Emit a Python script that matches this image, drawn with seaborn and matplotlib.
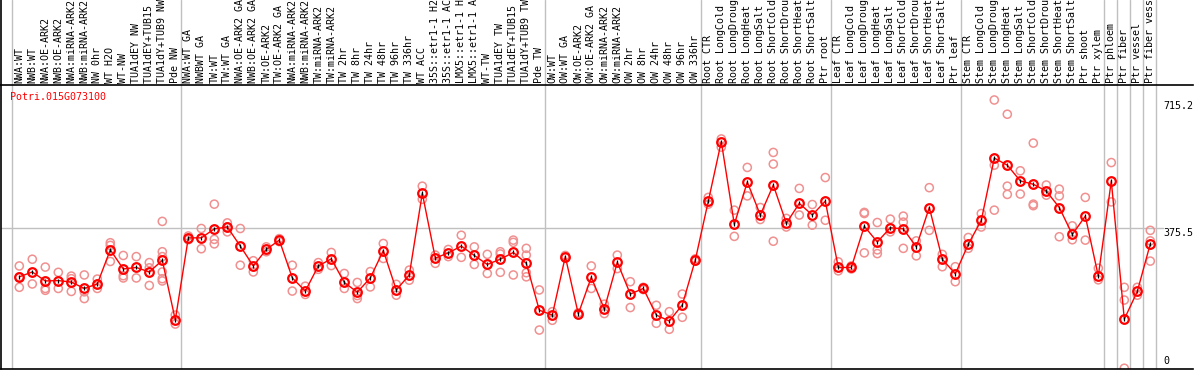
import numpy as np
import pandas as pd
import matplotlib
matplotlib.use("Agg")
import matplotlib.pyplot as plt
import seaborn as sns

# sample names, in plot order
labels = [
    "NWA:WT", "NWB:WT", "NWA:OE-ARK2", "NWB:OE-ARK2", "NWA:miRNA-ARK2", "NWB:miRNA-ARK2",
    "NW 0hr", "WT H2O", "WT-NW", "TUA1dEY NW", "TUA1dEY+TUB15 NW", "TUA1dY+TUB9 NW", "Pde NW",
    "NWA:WT GA", "NWBWT GA", "TW:WT", "TW:WT GA", "NWA:OE-ARK2 GA", "NWB:OE-ARK2 GA",
    "TW:OE-ARK2", "TW:OE-ARK2 GA", "NWA:miRNA-ARK2", "NWB:miRNA-ARK2", "TW:miRNA-ARK2",
    "TW:miRNA-ARK2", "TW 2hr", "TW 8hr", "TW 24hr", "TW 48hr", "TW 96hr", "TW 336hr",
    "WT ACC", "35S::etr1-1 H2O", "35S::etr1-1 ACC", "LMX5::etr1-1 H2O", "LMX5::etr1-1 ACC",
    "WT-TW", "TUA1dEY TW", "TUA1dEY+TUB15 TW", "TUA1dY+TUB9 TW", "Pde TW",
    "OW:WT", "OW:WT GA", "OW:OE-ARK2", "OW:OE-ARK2 GA", "OW:miRNA-ARK2", "OW:miRNA-ARK2",
    "OW 2hr", "OW 8hr", "OW 24hr", "OW 48hr", "OW 96hr", "OW 336hr",
    "Root CTR", "Root LongCold", "Root LongDrought", "Root LongHeat", "Root LongSalt",
    "Root ShortCold", "Root ShortDrought", "Root ShortHeat", "Root ShortSalt", "Ptr root",
    "Leaf CTR", "Leaf LongCold", "Leaf LongDrought", "Leaf LongHeat", "Leaf LongSalt",
    "Leaf ShortCold", "Leaf ShortDrought", "Leaf ShortHeat", "Leaf ShortSalt", "Ptr leaf",
    "Stem CTR", "Stem LongCold", "Stem LongDrought", "Stem LongHeat", "Stem LongSalt",
    "Stem ShortCold", "Stem ShortDrought", "Stem ShortHeat", "Stem ShortSalt",
    "Ptr shoot", "Ptr xylem", "Ptr phloem", "Ptr fiber", "Ptr vessel", "Ptr fiber vessel",
]

# mean expression per sample
means = [
    246, 259, 235, 236, 232, 215, 227, 318, 267, 271, 259, 290, 131,
    350, 350, 374, 379, 328, 275, 319, 344, 243, 208, 275, 294, 231, 205, 243, 316, 211,
    251, 469, 296, 310, 328, 303, 279, 293, 311, 282, 157,
    144, 300, 147, 245, 160, 285, 200, 215, 144, 128, 171, 291,
    448, 607, 386, 499, 411, 491, 389, 442, 411, 448,
    271, 271, 381, 339, 377, 374, 326, 431, 293, 254,
    333, 397, 563, 544, 502, 493, 475, 431, 359, 408,
    248, 502, 133, 207, 334,
]

# individual replicates per sample
replicates = [
    [275, 246, 218], [293, 227], [272, 215, 210], [258, 215], [248, 207, 241], [251, 206, 188],
    [240, 215, 226], [337, 330, 287], [303, 249, 243], [300, 243], [284, 223, 270],
    [394, 313, 300, 259, 241, 235], [144, 120],
    [355, 345], [375, 321], [440, 346, 334], [390, 379, 366], [375, 277], [289, 259],
    [326, 313], [348, 340], [277, 208], [221, 199], [284, 266], [311, 276], [255, 215],
    [231, 188, 196], [260, 219], [335, 295], [226, 197],
    [264, 237], [488, 453], [304, 282], [319, 300], [357, 298], [326, 279], [306, 255],
    [313, 307, 258], [344, 338, 251], [322, 304, 246, 257], [211, 104],
    [153, 130], [303, 297], [150, 145], [275, 215], [173, 148], [304, 268], [233, 164],
    [218, 212], [170, 122], [153, 106], [200, 138], [294, 288],
    [458, 440], [614, 592], [424, 354], [538, 462], [431, 399], [578, 547, 341],
    [402, 379], [482, 411], [439, 384], [511, 397],
    [286, 262], [275, 267], [418, 415, 310], [391, 308, 318], [400, 366], [408, 322, 392],
    [342, 302], [484, 370], [306, 273], [273, 233],
    [351, 322], [415, 379], [718, 544, 424], [680, 488, 466], [529, 467], [603, 436, 440],
    [491, 464], [480, 462, 353], [382, 345], [458, 344],
    [269, 238], [551, 446], [218, 184, 2], [218, 197], [370, 342, 288],
]

separators = [-0.6, 12.4, 40.4, 52.4, 62.4, 72.4, 83.4, 84.4, 85.4, 86.4, 87.4]
y_ticks = [715.2, 375.5, 0]
gene = "Potri.015G073100"

df_mean = pd.DataFrame({"idx": np.arange(len(means)), "value": means})
df_rep = pd.DataFrame(
    [(i, v) for i, reps in enumerate(replicates) for v in reps], columns=["idx", "value"]
)

sns.set_style("white")
mono = "DejaVu Sans Mono"

W, H = 1194, 370
fig = plt.figure(figsize=(W / 100, H / 100), dpi=100)


def rect(x0, y0, x1, y1):
    return [x0 / W, 1 - y1 / H, (x1 - x0) / W, (y1 - y0) / H]


ax = fig.add_axes(rect(1, 85, 1193, 369))
lab_ax = fig.add_axes(rect(1, 0, 1193, 85))

xmin = -1.408
xmax = xmin + 1192 / 13
for a in (ax, lab_ax):
    a.set_xlim(xmin, xmax)
    a.set_xticks([])
    a.set_yticks([])
    a.set_facecolor("white")
    for s in ("top", "right"):
        a.spines[s].set_visible(False)
    a.spines["left"].set_color("black")
    a.spines["bottom"].set_color("black")
    a.spines["left"].set_linewidth(1.2)
    a.spines["bottom"].set_linewidth(1.2)
    for x in separators:
        a.axvline(x, color="#c0c0c0", lw=1, zorder=0)
ax.set_ylim(0, 758)
lab_ax.set_ylim(0, 1)

# grid line at middle tick
ax.plot([xmin, 88.0], [375.5, 375.5], color="#c0c0c0", lw=1, zorder=0)

sns.scatterplot(data=df_rep, x="idx", y="value", ax=ax, marker="o", s=34,
                facecolors="none", edgecolor="#f09090", linewidth=1.1, zorder=2, legend=False)
sns.lineplot(data=df_mean, x="idx", y="value", ax=ax, color="red", lw=1, zorder=3,
             marker="o", markersize=6.2, markerfacecolor="none", markeredgecolor="red",
             markeredgewidth=1.6, legend=False)
# small dark tick in the centre of each mean marker
sns.scatterplot(data=df_mean, x="idx", y="value", ax=ax, marker="|", s=6,
                color="black", linewidth=0.9, zorder=4, legend=False)
ax.set_xlabel("")
ax.set_ylabel("")

# sample labels
for i, lab in enumerate(labels):
    lab_ax.text(i, 0.02, lab, rotation=90, ha="center", va="bottom", fontsize=7.2,
                family=mono, color="black")

# gene title
ax.text(xmin + 9 / 13, (369 - 97) / 0.3747, gene, fontsize=7.2, family=mono,
        color="red", va="center", ha="left")

# right-hand value labels
for v in y_ticks:
    va = "bottom" if v == 0 else "top"
    yy = 8 if v == 0 else v
    ax.text(87.98, yy, f"{v:g}", fontsize=7.2, family=mono,
            color="black", ha="left", va=va)

fig.savefig("out.png", dpi=100)
